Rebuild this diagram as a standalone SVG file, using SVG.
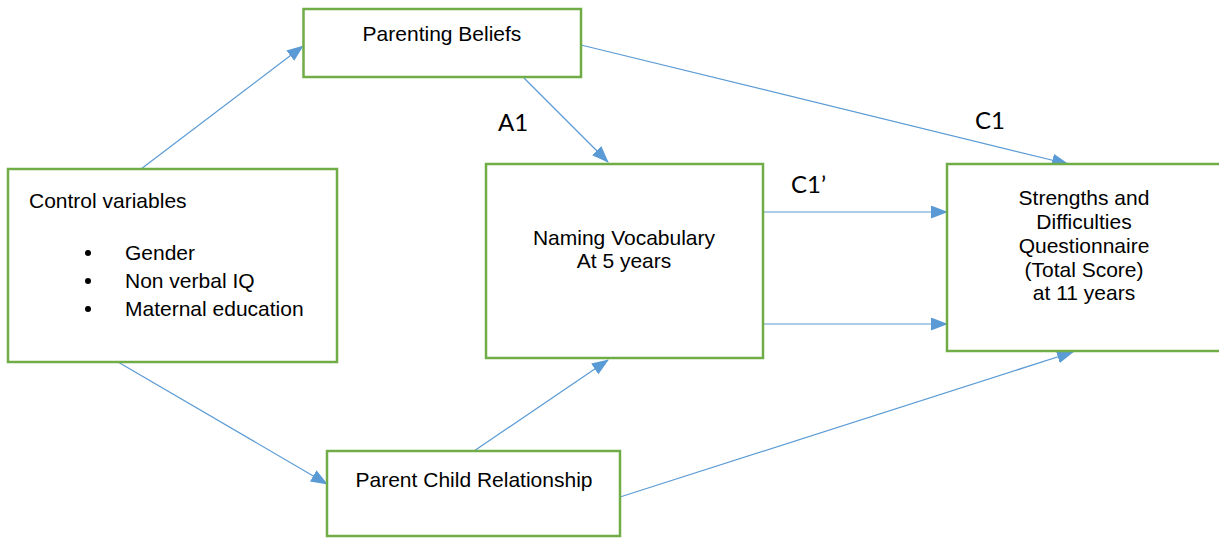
<svg xmlns="http://www.w3.org/2000/svg" width="1219" height="538" viewBox="0 0 1219 538">
<style>
.box{fill:#fff;stroke:#70AD47;stroke-width:2.5}
.t{font-family:"Liberation Sans",Arial,sans-serif;font-size:21px;fill:#000}
.c{text-anchor:middle}
.lbl{font-family:Lato,"Open Sans",sans-serif;font-size:24px;fill:#000}
.e{stroke:#5B9BD5;stroke-width:1.2;fill:none;marker-end:url(#ah)}
</style>
<defs>
<marker id="ah" markerUnits="userSpaceOnUse" markerWidth="17" markerHeight="13" viewBox="0 0 17 13" refX="16" refY="6.5" orient="auto">
<path d="M0,0 L17,6.5 L0,13 z" fill="#5B9BD5"/>
</marker>
</defs>
<rect width="1219" height="538" fill="#fff"/>
<g id="connectors">
<line class="e" x1="141" y1="169" x2="303" y2="46"/>
<line class="e" x1="524" y1="78" x2="608" y2="162"/>
<line class="e" x1="581" y1="45" x2="1068" y2="164"/>
<line class="e" x1="764" y1="212" x2="947" y2="212"/>
<line class="e" x1="764" y1="324" x2="947" y2="324"/>
<line class="e" x1="118" y1="362" x2="327" y2="484"/>
<line class="e" x1="474" y1="451" x2="608" y2="360"/>
<line class="e" x1="620" y1="497" x2="1073" y2="352"/>
</g>
<g id="parenting-beliefs">
<rect class="box" x="303.5" y="9" width="277.5" height="68"/>
<text class="t c" x="442" y="41">Parenting Beliefs</text>
</g>
<g id="control-variables">
<rect class="box" x="8" y="169" width="329" height="193"/>
<text class="t" x="29" y="208">Control variables</text>
<circle cx="88" cy="253" r="3"/>
<text class="t" x="125" y="260">Gender</text>
<circle cx="88" cy="281" r="3"/>
<text class="t" x="125" y="288">Non verbal IQ</text>
<circle cx="88" cy="309" r="3"/>
<text class="t" x="125" y="316">Maternal education</text>
</g>
<g id="naming-vocabulary">
<rect class="box" x="486" y="164" width="277" height="194"/>
<text class="t c" x="624" y="245">Naming Vocabulary</text>
<text class="t c" x="624" y="268">At 5 years</text>
</g>
<g id="sdq">
<rect class="box" x="947" y="164" width="274" height="187"/>
<text class="t c" x="1084" y="205">Strengths and</text>
<text class="t c" x="1084" y="229">Difficulties</text>
<text class="t c" x="1084" y="253">Questionnaire</text>
<text class="t c" x="1084" y="277">(Total Score)</text>
<text class="t c" x="1084" y="300">at 11 years</text>
</g>
<g id="parent-child-relationship">
<rect class="box" x="327" y="451" width="293" height="85"/>
<text class="t c" x="474" y="487">Parent Child Relationship</text>
</g>
<g id="labels">
<text class="lbl" x="498" y="131">A1</text>
<text class="lbl" x="975" y="129">C1</text>
<text class="lbl" x="791" y="193">C1’</text>
</g>
</svg>
